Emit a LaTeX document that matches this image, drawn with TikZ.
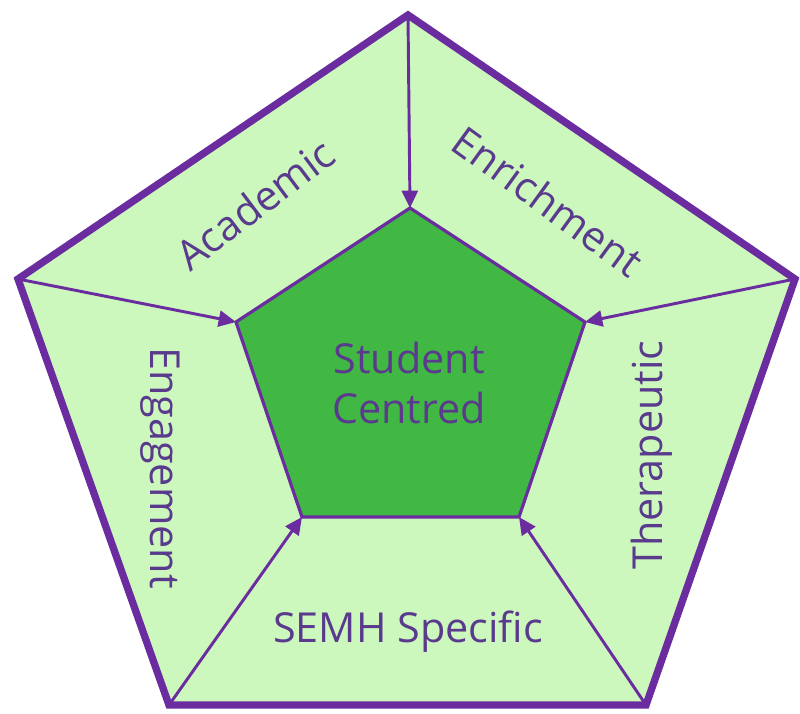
\documentclass[tikz,border=0pt]{standalone}
\usepackage{fontspec}
\setmainfont{Open Sans}
\usetikzlibrary{arrows.meta}

\definecolor{ringpurple}{HTML}{6A2C9E}
\definecolor{labelpurple}{HTML}{5A3A8C}
\definecolor{palegreen}{HTML}{CCF8BE}
\definecolor{coregreen}{HTML}{42B844}

\tikzset{
    outerbox/.style={draw=ringpurple, line width=5.5pt, line join=miter, fill=palegreen},
    innerbox/.style={draw=ringpurple, line width=2.4pt, line join=miter, fill=coregreen},
    feed/.style={draw=ringpurple, line width=2.2pt, -{Triangle[length=13pt,width=12pt]}},
    lbl/.style={text=labelpurple, font=\fontsize{31}{38}\selectfont, inner sep=0pt}
}

\begin{document}
\begin{tikzpicture}[x=0.75pt, y=-0.75pt]
    \useasboundingbox (0,0) rectangle (800,714);

    % corners of the outer ring
    \coordinate (otop) at (408,15);
    \coordinate (oright) at (795,279);
    \coordinate (obr) at (646,705);
    \coordinate (obl) at (169,705);
    \coordinate (oleft) at (18,279);

    % corners of the core
    \coordinate (itop) at (410,208);
    \coordinate (iright) at (585,322);
    \coordinate (ibr) at (519,517);
    \coordinate (ibl) at (302,517);
    \coordinate (ileft) at (236,322);

    \path[outerbox] (otop) -- (oright) -- (obr) -- (obl) -- (oleft) -- cycle;
    \path[innerbox] (itop) -- (iright) -- (ibr) -- (ibl) -- (ileft) -- cycle;

    \foreach \o/\i in {otop/itop, oright/iright, obr/ibr, obl/ibl, oleft/ileft}
        \draw[feed] (\o) -- (\i);

    % labels
    \node[lbl, align=center] (core) at (409,383) {Student\\Centred};
    \node[lbl, rotate=37] (academic) at (255,204) {Academic};
    \node[lbl, rotate=-36] (enrich) at (548,201) {Enrichment};
    \node[lbl, rotate=-90] (engage) at (160,468) {Engagement};
    \node[lbl, rotate=90] (thera) at (652,455) {Therapeutic};
    \node[lbl] (semh) at (408,632) {SEMH Specific};
\end{tikzpicture}
\end{document}
